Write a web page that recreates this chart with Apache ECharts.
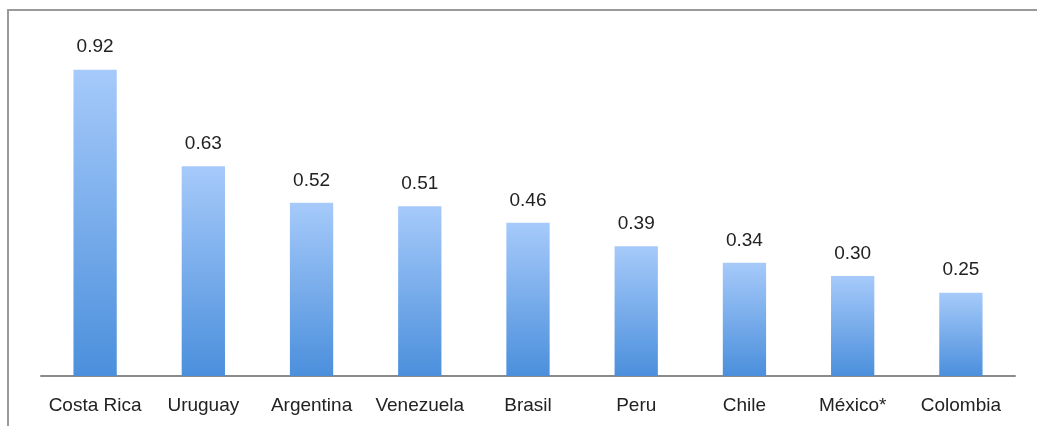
<!DOCTYPE html>
<html>
<head>
<meta charset="utf-8">
<script src="https://cdn.jsdelivr.net/npm/echarts@6/dist/echarts.min.js"></script>
<style>
  html, body { margin: 0; padding: 0; background: #fff; }
  #chart { width: 1037px; height: 426px; }
</style>
</head>
<body>
<div id="chart"></div>
<script>
// Countries and their values
const countries = ['Costa Rica', 'Uruguay', 'Argentina', 'Venezuela', 'Brasil', 'Peru', 'Chile', 'México*', 'Colombia'];
const values = [0.92, 0.63, 0.52, 0.51, 0.46, 0.39, 0.34, 0.30, 0.25];

const chart = echarts.init(document.getElementById('chart'), null, { renderer: 'canvas' });

const barGradient = new echarts.graphic.LinearGradient(0, 0, 0, 1, [
  { offset: 0, color: '#a6cafa' },
  { offset: 1, color: '#4b8fdc' }
]);

chart.setOption({
  animation: false,
  backgroundColor: '#ffffff',
  textStyle: { fontFamily: 'Liberation Sans, Arial, sans-serif' },
  graphic: [
    {
      type: 'polyline',
      shape: { points: [[8, 426], [8, 10], [1037, 10]] },
      style: { stroke: '#9a9a9a', lineWidth: 2, fill: null },
      silent: true
    }
  ],
  grid: { left: 41, right: 22, top: 43, bottom: 50, containLabel: false },
  xAxis: {
    type: 'category',
    data: countries,
    axisLine: { show: true, lineStyle: { color: '#8a8a8a', width: 2 } },
    axisTick: { show: false },
    axisLabel: { color: '#222', fontSize: 19, margin: 20, interval: 0 }
  },
  yAxis: {
    type: 'value',
    min: 0,
    max: 1,
    show: false,
    splitLine: { show: false }
  },
  series: [
    {
      type: 'bar',
      data: values,
      barWidth: '40%',
      itemStyle: { color: barGradient },
      label: {
        show: true,
        position: 'top',
        distance: 13,
        color: '#222',
        fontSize: 19,
        formatter: p => p.value.toFixed(2)
      }
    }
  ]
});
</script>
</body>
</html>
